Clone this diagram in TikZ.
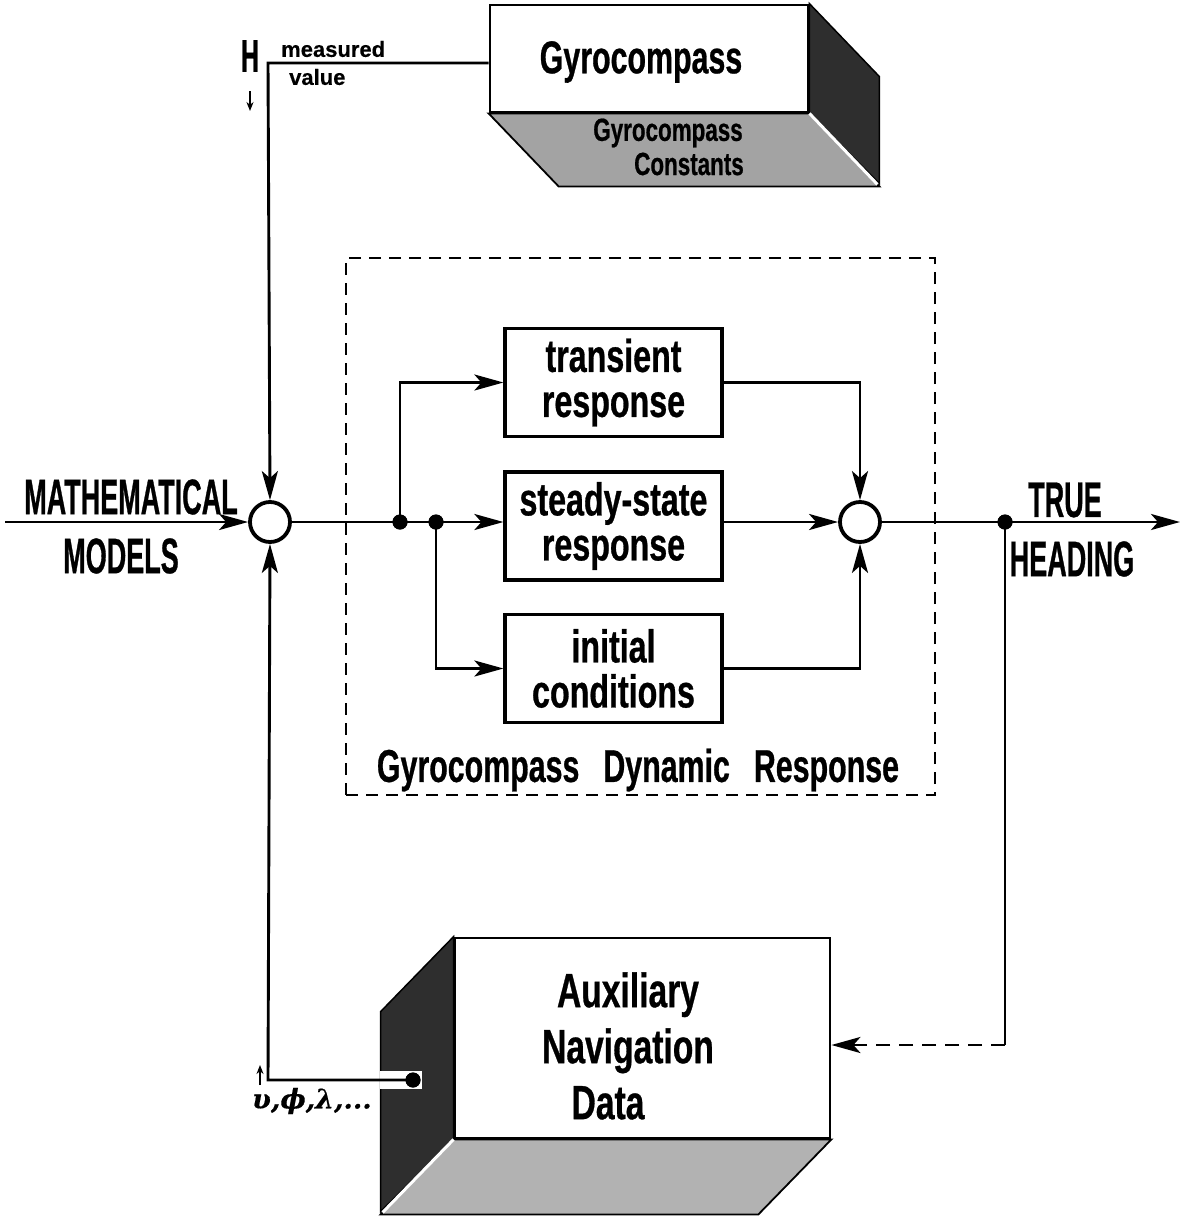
\documentclass[tikz,border=0pt]{standalone}
\usepackage{fontspec}
\usetikzlibrary{arrows.meta,calc}
\newfontfamily\gothic{Liberation Sans}[FakeStretch=0.7,FakeBold=0.6]
\newfontfamily\gothicnarrow{Liberation Sans}[FakeStretch=0.66,FakeBold=0.6]
\newfontfamily\gothiccaps{Liberation Sans}[FakeStretch=0.54,FakeBold=0.6]
\newfontfamily\plainsans{Liberation Sans}[FakeBold=0.3]
\newfontfamily\greekfont{DejaVu Serif}[FakeBold=0.4]
\begin{document}
\begin{tikzpicture}[x=1pt,y=-1pt,
  conn/.style={line width=2.9pt},
  arr/.style={-{Stealth[length=29pt,width=16pt,inset=7pt]}},
  blk/.style={draw,line width=3.2pt,minimum width=217pt,minimum height=108pt,inner sep=0pt,align=center,
    font=\gothic\bfseries\fontsize{46}{45}\selectfont},
  sumnode/.style={circle,draw,line width=3.8pt,minimum size=40pt,inner sep=0pt,fill=white},
  dotnode/.style={circle,fill,minimum size=15pt,inner sep=0pt},
  capslabel/.style={inner sep=0pt,font=\gothiccaps\bfseries\fontsize{50}{50}\selectfont},
  frontface/.style={draw,fill=white,line width=2.8pt,inner sep=0pt,align=center},
  darkface/.style={fill=black!82,draw=black,line width=1.5pt},
  greyface/.style={fill=black!36,draw=black,line width=1.8pt},
  lightface/.style={fill=black!30,draw=black,line width=1.8pt},
]
\useasboundingbox (0,0) rectangle (1180,1221);

% ---------- Gyrocompass block (3D) ----------
\node[frontface,minimum width=318pt,minimum height=107pt] (gyro) at (649,58.5) {};
\path[greyface] (gyro.south west) -- (gyro.south east) -- ++(70,73) -- ($(gyro.south west)+(70,73)$) -- cycle;
\path[darkface] (gyro.north east) -- ++(70,73) -- ++(0,107) -- (gyro.south east) -- cycle;
\draw[white,line width=3pt] (gyro.south east) -- ++(68,71);
\node[frontface,minimum width=318pt,minimum height=107pt] (gyrof) at (649,58.5) {};
\node[inner sep=0pt,font=\gothicnarrow\bfseries\fontsize{46}{46}\selectfont] (gyt) at (641,62) {Gyrocompass};
\node[inner sep=0pt,font=\gothic\bfseries\fontsize{32}{32}\selectfont] (gc1) at (668,133) {Gyrocompass};
\node[inner sep=0pt,font=\gothic\bfseries\fontsize{32}{32}\selectfont] (gc2) at (689,164) {Constants};

% ---------- labels near H ----------
\node[capslabel,font=\gothiccaps\bfseries\fontsize{46}{46}\selectfont] (H) at (250,56) {H};
\coordinate (ha) at (250,91);
\coordinate (hb) at (250,111);
\draw[line width=1.8pt,-{Stealth[length=9pt,width=7pt]}] (ha) -- (hb);
\node[anchor=west,inner sep=0pt,font=\plainsans\bfseries\fontsize{22}{22}\selectfont] (mv1) at (281,49) {measured};
\node[anchor=west,inner sep=0pt,font=\plainsans\bfseries\fontsize{22}{22}\selectfont] (mv2) at (289,77) {value};

% ---------- dashed group ----------
\node[draw,line width=1.8pt,dash pattern=on 12pt off 8pt,minimum width=589pt,minimum height=537pt,inner sep=0pt] (grp) at (640.5,526.5) {};
\node[inner sep=0pt,font=\gothicnarrow\bfseries\fontsize{46}{46}\selectfont] (grplab) at (638,770)
  {Gyrocompass\hspace{24pt}Dynamic\hspace{24pt}Response};

% ---------- summing points ----------
\node[sumnode] (L) at (270,522) {};
\node[sumnode] (R) at (860,522) {};

% ---------- blocks ----------
\node[blk] (tr) at (613.5,382.5) {transient\\response};
\node[blk] (ss) at (613.5,526) {steady-state\\response};
\node[blk] (ic) at (613.5,668.5) {initial\\conditions};

\node[dotnode] (d1) at (400,522) {};
\node[dotnode] (d2) at (436,522) {};
\node[dotnode] (d3) at (1005,522) {};

% ---------- side labels ----------
\node[capslabel] (mm1) at (131,497) {MATHEMATICAL};
\node[capslabel] (mm2) at (121,556) {MODELS};
\node[capslabel] (th1) at (1065,500) {TRUE};
\node[capslabel] (th2) at (1072,559) {HEADING};

% ---------- Auxiliary block (3D) ----------
\node[frontface,minimum width=375pt,minimum height=200pt] (aux) at (642.5,1038) {};
\path[lightface] (aux.south west) -- (aux.south east) -- ++(-73,75) -- ($(aux.south west)+(-73,75)$) -- cycle;
\path[darkface] (aux.north west) -- ++(-73,75) -- ++(0,200) -- (aux.south west) -- cycle;
\draw[white,line width=3pt] (aux.south west) -- ++(-71,73);
\node[frontface,minimum width=375pt,minimum height=200pt] (auxf) at (642.5,1038) {};
\node[inner sep=0pt,align=center,font=\gothic\bfseries\fontsize{48}{56}\selectfont] (auxt) at (628,1046)
  {Auxiliary\\Navigation\\Data\rule{40pt}{0pt}};
\node[fill=white,inner sep=0pt,minimum width=42pt,minimum height=18pt] (slot) at (401,1080) {};
\node[dotnode] (d4) at (413,1080) {};

\node[inner sep=0pt,font=\greekfont\bfseries\itshape\fontsize{27}{27}\selectfont] (gr) at (312,1101) {υ,ϕ,λ,...};
\coordinate (ua) at (260,1085);
\coordinate (ub) at (260,1065);
\draw[line width=1.8pt,-{Stealth[length=9pt,width=7pt]}] (ua) -- (ub);

% ---------- connectors ----------
\coordinate (hv) at (268,63);
\coordinate (in) at (5,522);
\coordinate (out) at (1180,522);
\coordinate (fb) at (1005,1045);

\draw[conn,arr] (gyrof.west |- hv) -- (hv) -- (L.north);
\draw[conn,arr] (in) -- (L.west);
\draw[conn,arr] (L.east) -- (ss.west |- L);
\draw[conn,arr] (d1.center) -- (d1 |- tr) -- (tr.west);
\draw[conn,arr] (d2.center) -- (d2 |- ic) -- (ic.west);
\draw[conn,arr] (tr.east) -- (R |- tr) -- (R.north);
\draw[conn,arr] (ic.east) -- (R |- ic) -- (R.south);
\draw[conn,arr] (ss.east |- R) -- (R.west);
\draw[conn,arr] (R.east) -- (out);
\draw[conn] (d3.center) -- (fb);
\draw[conn,dash pattern=on 14pt off 9pt,arr] (fb) -- (auxf.east |- fb);
\draw[conn,arr] (d4.center) -- (d4 -| hv) -- (L.south);
\node[dotnode] at (d1) {};
\node[dotnode] at (d2) {};
\node[dotnode] at (d3) {};
\node[dotnode] at (d4) {};
\end{tikzpicture}
\end{document}
